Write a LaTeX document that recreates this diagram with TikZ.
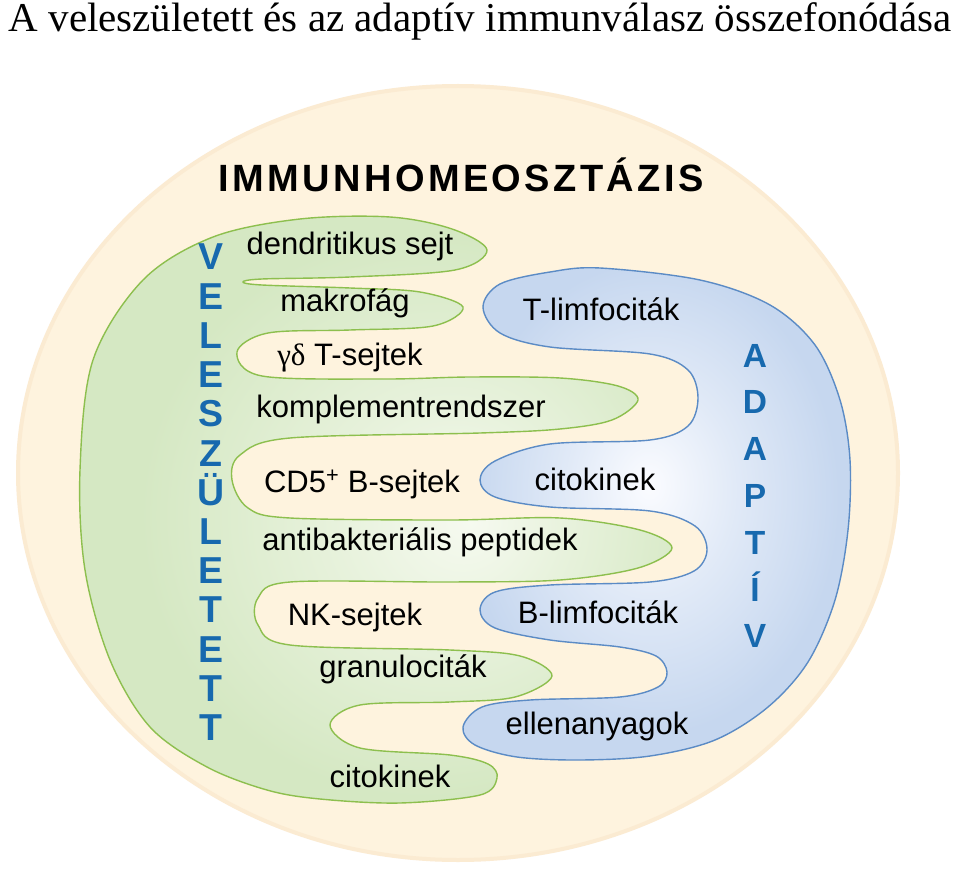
\documentclass[tikz,border=0pt]{standalone}
\usepackage{fontspec}
\setmainfont{Liberation Serif}
\newfontfamily\arialfont{Liberation Sans}
\newfontfamily\headfont[LetterSpace=9]{Liberation Sans}
\definecolor{HomeoBeige}{HTML}{FEF3DE}
\definecolor{HomeoEdge}{HTML}{FBEBD2}
\definecolor{InnateLine}{HTML}{8DBF4E}
\definecolor{InnateFill}{HTML}{D5E8C3}
\definecolor{InnateLight}{HTML}{F6FAF0}
\definecolor{AdaptLine}{HTML}{5B8BC5}
\definecolor{AdaptFill}{HTML}{C6D7EF}
\definecolor{AdaptLight}{HTML}{FBFCFF}
\definecolor{LetterBlue}{HTML}{1769AE}
\pgfdeclareradialshading{innateglow}{\pgfpoint{8bp}{-1bp}}{color(0bp)=(InnateLight); color(10bp)=(InnateLight!55!InnateFill); color(24bp)=(InnateFill); color(50bp)=(InnateFill)}
\pgfdeclareradialshading{adaptglow}{\pgfpoint{-1bp}{3bp}}{color(0bp)=(AdaptLight); color(11bp)=(AdaptLight!50!AdaptFill); color(24bp)=(AdaptFill); color(50bp)=(AdaptFill)}

\begin{document}
\begin{tikzpicture}[x=1pt, y=-1pt,
    lbl/.style={font=\arialfont\fontsize{31}{36}\selectfont, inner sep=0pt, anchor=base},
    vletter/.style={font=\arialfont\bfseries\fontsize{37.5}{40}\selectfont, text=LetterBlue, inner sep=0pt, anchor=base},
    aletter/.style={font=\arialfont\bfseries\fontsize{33.5}{36}\selectfont, text=LetterBlue, inner sep=0pt, anchor=base},
    headlbl/.style={font=\headfont\bfseries\fontsize{38}{40}\selectfont, inner sep=0pt, anchor=base},
    titlelbl/.style={font=\fontsize{41}{44}\selectfont, inner sep=0pt, anchor=base}]
    \useasboundingbox[fill=white] (0,0) rectangle (960,874);

    \node[titlelbl] (title) at (480,32) {A veleszületett és az adaptív immunválasz összefonódása};

    % homeostasis background
    \fill[HomeoBeige, draw=HomeoEdge, line width=4] (458,473) ellipse [x radius=440, y radius=387];
    \node[headlbl] (homeo) at (461,192) {IMMUNHOMEOSZTÁZIS};

    % innate part
    \path[shading=innateglow, draw=InnateLine, line width=1.4] plot[smooth cycle, tension=0.55] coordinates {
        (300,219) (390,217) (452,229) (487,250) (455,270) (350,277) (262,279) (243,282) (262,285)
        (350,288) (420,292) (463,307) (433,326) (350,330) (268,333) (237,352) (262,376) (383,379)
        (470,377) (560,378) (618,386) (638,400) (612,420) (560,429) (480,433) (290,438) (240,455)
        (232,480) (248,508) (290,518) (450,520) (560,518) (640,530) (672,548) (638,568) (560,580)
        (450,582) (290,582) (258,598) (258,625) (290,645) (450,650) (520,656) (552,676) (515,697)
        (450,702) (360,705) (330,725) (360,748) (450,755) (488,764) (497,778) (480,795) (400,803)
        (320,799) (267,790) (207,767) (150,727) (110,660) (85,570) (80,470) (93,360) (143,280) (213,237)};

    % adaptive part
    \path[shading=adaptglow, draw=AdaptLine, line width=1.4] plot[smooth cycle, tension=0.55] coordinates {
        (600,268) (700,280) (770,305) (815,345) (840,400) (850,460) (848,530) (835,600) (808,662)
        (768,707) (715,740) (650,756) (580,760) (517,757) (475,745) (463,727) (482,707) (530,700)
        (620,697) (658,687) (667,672) (656,656) (620,647) (550,640) (495,628) (480,610) (495,592)
        (550,585) (650,582) (694,571) (707,550) (695,526) (650,511) (550,507) (495,497) (480,480)
        (495,461) (550,444) (650,440) (688,426) (698,398) (688,370) (650,354) (550,347) (500,333)
        (483,307) (500,284) (550,272)};

    \foreach \ch [count=\i] in {V,E,L,E,S,Z,Ü,L,E,T,E,T,T}
        \node[vletter] (vel\i) at (211,{270+39.2*(\i-1)}) {\ch};
    \foreach \ch [count=\i] in {A,D,A,P,T,Í,V}
        \node[aletter] (adapt\i) at (755,{367+46.8*(\i-1)}) {\ch};

    \node[lbl] (dendrit) at (350,255) {dendritikus sejt};
    \node[lbl] (makro) at (345,312) {makrofág};
    \node[lbl] (gammadelta) at (350,365) {{\rmfamily γδ} T-sejtek};
    \node[lbl] (kompl) at (401,417) {komplementrendszer};
    \node[lbl] (cdfive) at (362,492) {CD5\textsuperscript{+} B-sejtek};
    \node[lbl] (antibakt) at (420,550) {antibakteriális peptidek};
    \node[lbl] (nksejt) at (355,625) {NK-sejtek};
    \node[lbl] (granulo) at (403,677) {granulociták};
    \node[lbl] (citoinnate) at (390,787) {citokinek};

    \node[lbl] (tlimfo) at (601,320) {T-limfociták};
    \node[lbl] (citoadapt) at (595,490) {citokinek};
    \node[lbl] (blimfo) at (598,623) {B-limfociták};
    \node[lbl] (ellen) at (597,734) {ellenanyagok};
\end{tikzpicture}
\end{document}
